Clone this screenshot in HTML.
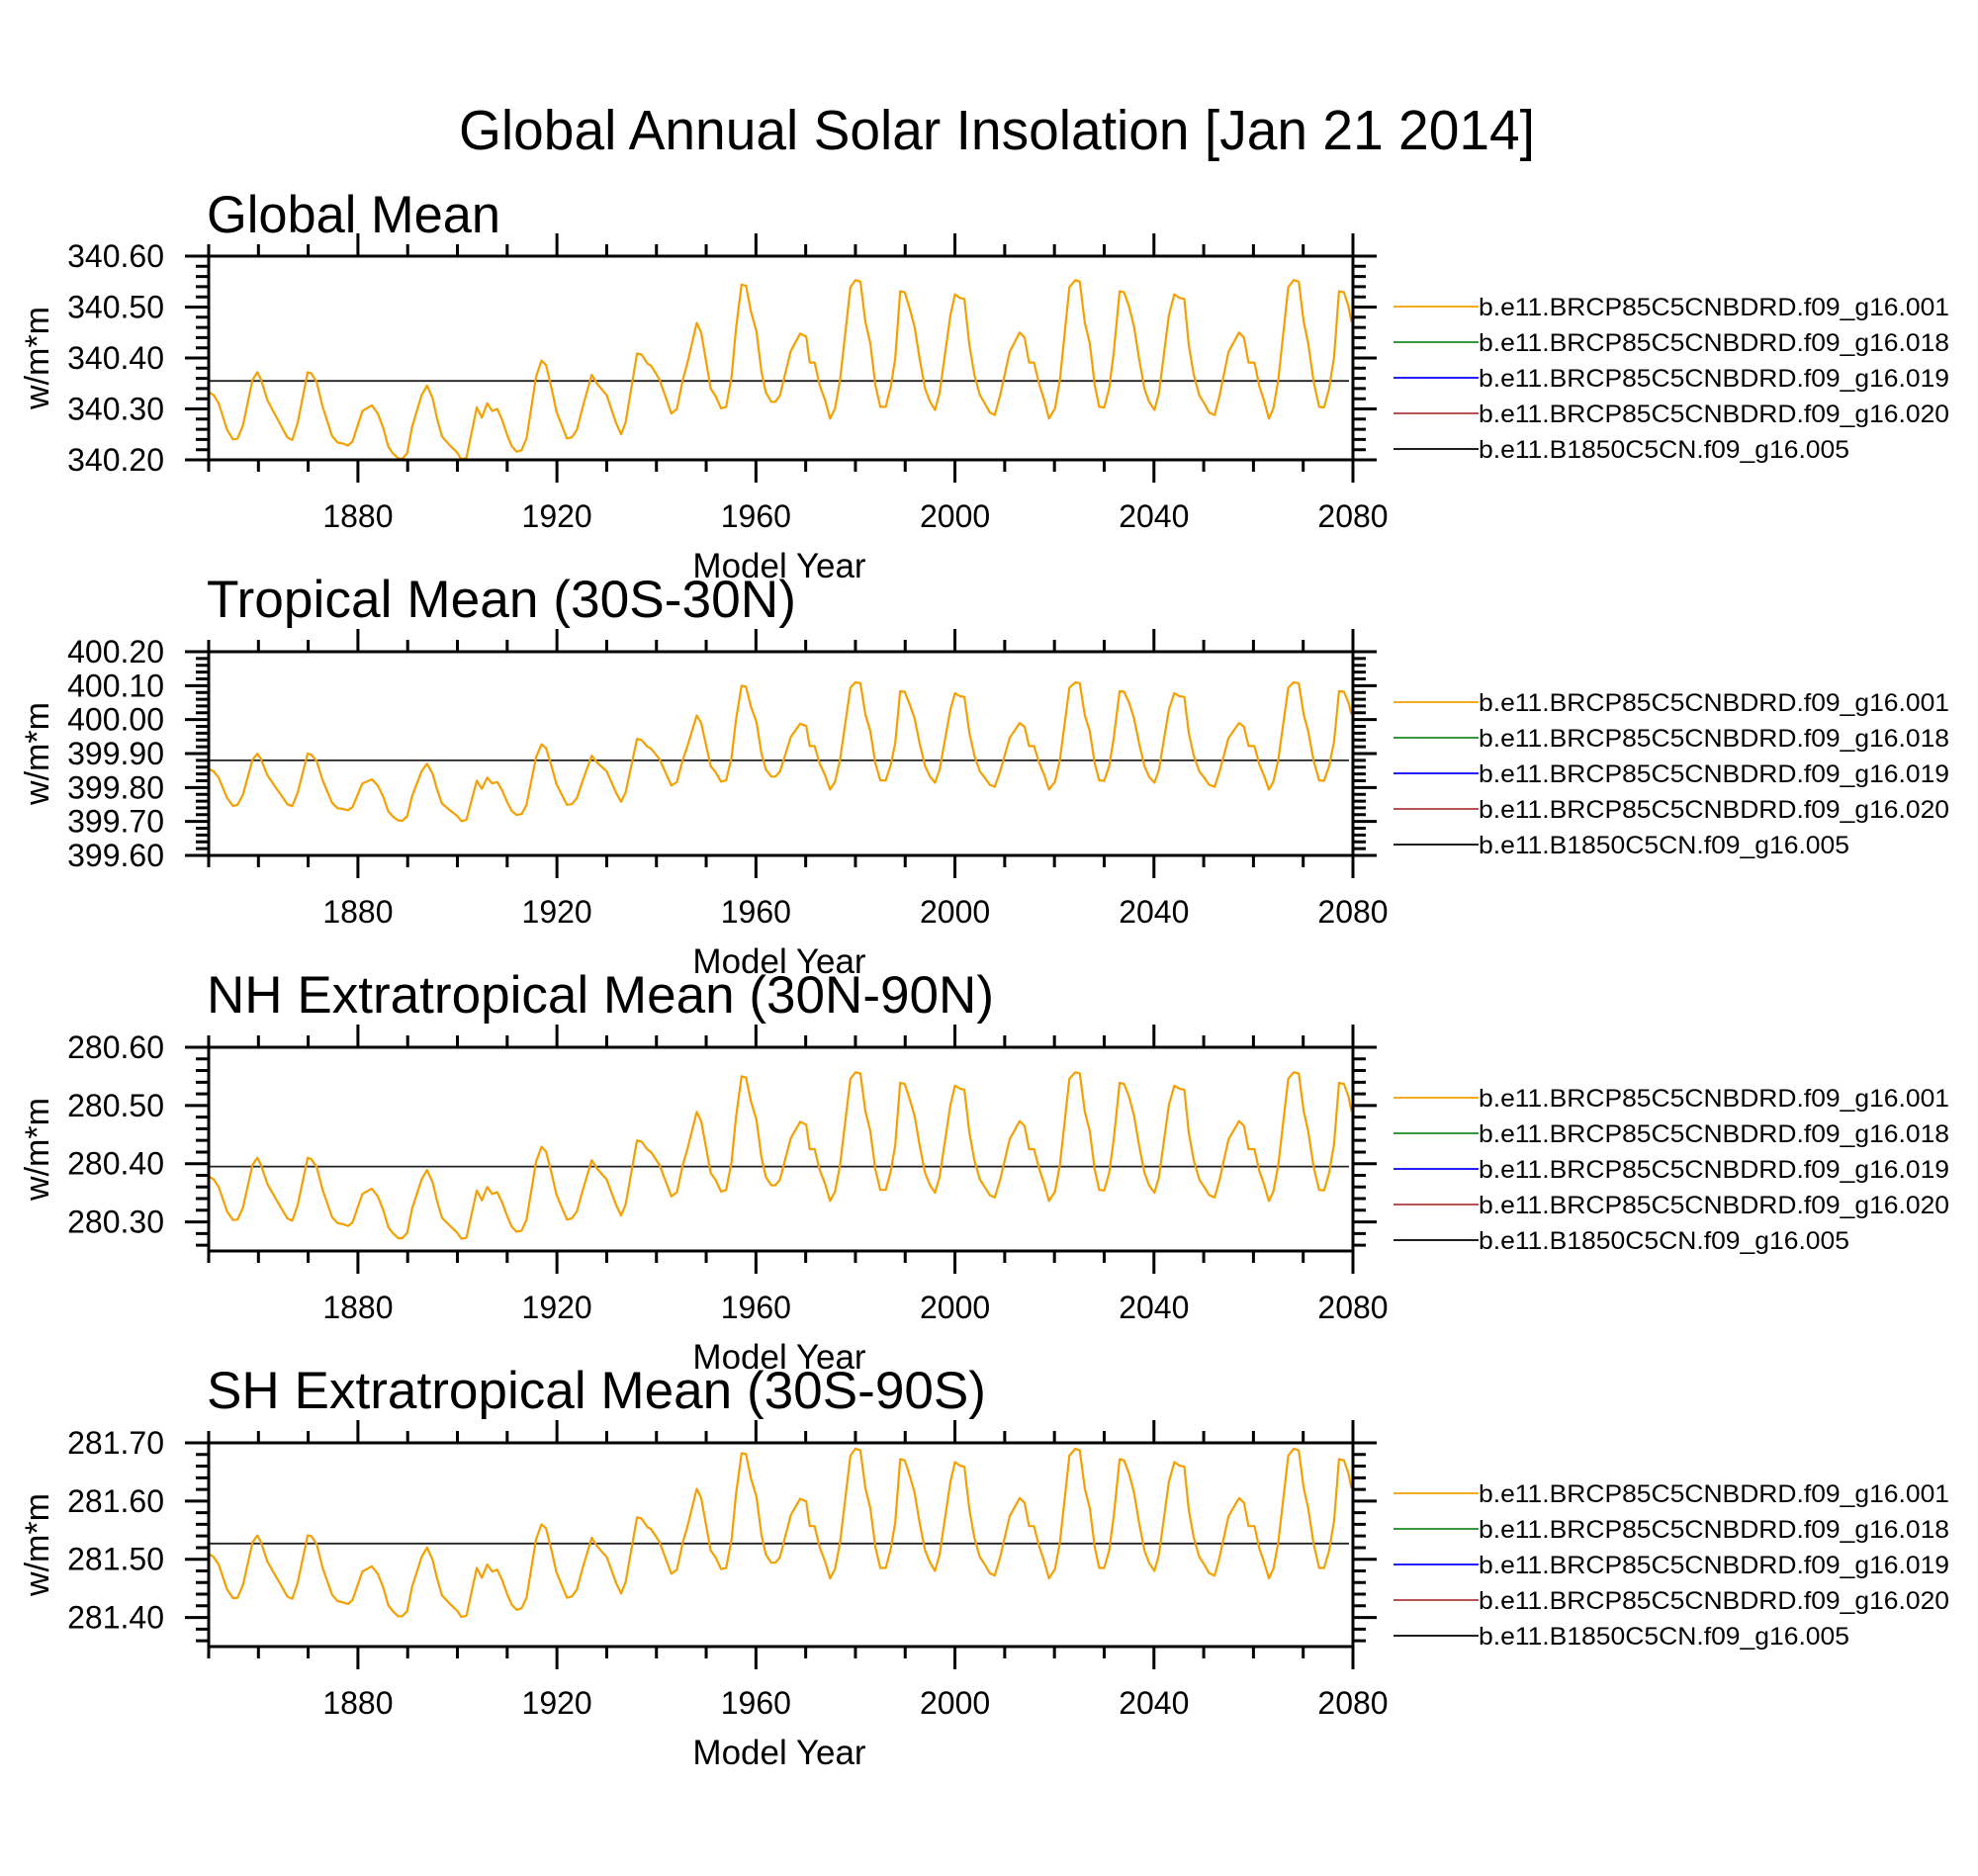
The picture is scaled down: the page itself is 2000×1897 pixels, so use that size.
<!DOCTYPE html>
<html><head><meta charset="utf-8"><style>
html,body{margin:0;padding:0;background:#fff;}
svg{display:block;font-family:"Liberation Sans",sans-serif;}
</style></head><body>
<svg id="chart" width="2000" height="1897" viewBox="0 0 2000 1897" xmlns="http://www.w3.org/2000/svg">
<rect width="2000" height="1897" fill="#fff"/>
<text x="1008" y="151" font-size="57" text-anchor="middle" textLength="1088" lengthAdjust="spacingAndGlyphs">Global Annual Solar Insolation [Jan 21 2014]</text>
</svg>
<script>
const years = [1850.1,1851,1852,1853.7,1854.9,1855.8,1856.9,1858.8,1859.8,1860.5,1861.8,1863,1864.5,1865.8,1866.8,1867.9,1869.9,1870.6,1871.7,1872.9,1874.8,1875.9,1877,1878,1878.9,1880.9,1882.8,1884,1885.1,1886.1,1887,1888.1,1888.9,1889.9,1890.9,1892.8,1893.9,1895,1895.9,1896.9,1898.4,1899.9,1900.8,1901.8,1903.9,1904.9,1906,1907,1908,1909,1910,1910.9,1911.9,1912.9,1913.9,1915.8,1916.9,1917.8,1919,1919.9,1922,1923,1924,1925.1,1927,1928.1,1930,1931.9,1932.9,1933.8,1936.1,1937,1938.2,1938.9,1940.6,1943,1944.1,1945.3,1946.2,1948.1,1949,1950.9,1951.9,1953,1954,1955.1,1956,1957.1,1958,1959,1960.1,1961.1,1962,1963.1,1963.9,1964.8,
1967,1968.9,1970.1,1970.8,1971.8,1972.8,1973.9,1974.9,1975.9,1976.9,1979,1980,1981,1982,1983,1984,1985,1986.1,1987.1,1988,1989,1989.9,1990.9,1991.9,1992.9,1994,1995,1996,1996.9,1999.1,2000,2001,2001.9,2002.9,2003.9,2005,2006,2007,2008,2009.1,2011,2013,2014,2014.9,2015.9,2016.9,2018,2018.9,2020.1,2021.1,2023,2024.2,2025.1,2026.1,2027.1,2028.1,2029,2030,2031,2031.9,2033.1,2034,2035,2036,2037,2038.1,2039,2040.1,2041,2043,2044.1,2045.1,2046.1,2047,2048,2049.1,2050.1,2051.1,2052.2,2053.2,2055,2057.1,2058.1,2059,2060.2,2061.2,2062.1,2063.1,2064,2065,2067,2068.1,2069.1,2070.1,2071,2072.1,2073.2,2074.2,2075.2,2076.2,2077.2,2078.2,2079.1,2079.7];

// values stored as mW/m^2 above each panel's base (w/m*m)
const globalBase = 340.20;
const globalAnom = [133,127,111,59,40,42,68,157,172,158,117,95,68,44,39,73,172,170,153,104,47,34,32,28,36,96,107,91,62,26,13,3,2,13,65,127,146,121,81,46,29,15,1,4,103,83,111,96,100,78,49,27,16,19,42,163,195,186,137,95,42,44,59,101,167,149,127,72,50,74,209,207,189,185,158,91,100,157,189,269,250,140,125,101,104,163,258,344,342,291,252,173,132,114,114,126,
214,248,242,191,191,147,117,81,101,157,339,353,350,271,229,147,104,104,144,199,331,329,297,261,199,140,114,98,131,284,325,318,316,225,167,127,111,93,88,127,212,250,240,191,191,150,116,81,101,157,339,353,350,269,229,147,104,103,140,209,331,329,301,261,199,140,114,98,131,284,325,318,316,225,167,127,111,93,88,127,212,250,240,191,191,144,117,81,101,157,339,353,350,271,229,153,104,103,140,202,331,329,301,271];

const tropicalBase = 399.70;
const tropicalAnom = [154,148,129,69,46,49,79,182,200,184,136,110,79,51,45,85,200,197,178,121,55,39,37,33,42,112,124,106,72,30,15,3,2,15,75,148,170,141,94,53,34,17,1,5,120,96,129,112,116,91,57,31,19,22,49,189,227,216,159,110,49,51,69,117,194,173,148,84,58,86,243,240,220,215,184,106,116,182,220,312,290,163,145,117,121,189,300,400,397,338,293,201,153,132,132,146,
249,288,281,222,222,171,136,94,117,182,394,410,407,315,266,171,121,121,167,231,384,382,345,303,231,163,132,114,152,330,378,369,367,261,194,148,129,108,102,148,246,290,279,222,222,174,135,94,117,182,394,410,407,312,266,171,121,120,163,243,384,382,350,303,231,163,132,114,152,330,378,369,367,261,194,148,129,108,102,148,246,290,279,222,222,167,136,94,117,182,394,410,407,315,266,178,121,120,163,235,384,382,350,315];

const nhBase = 280.27;
const nhAnom = [108,103,90,48,33,34,55,128,140,128,95,77,55,36,32,59,140,138,124,85,38,28,26,23,29,78,87,74,50,21,11,2,2,11,53,103,119,98,66,37,24,12,1,3,84,67,90,78,81,63,40,22,13,15,34,133,159,151,111,77,34,36,48,82,136,121,103,59,41,60,170,168,154,150,128,74,81,128,154,219,203,114,102,82,85,133,210,280,278,237,205,141,107,93,93,102,
174,202,197,155,155,120,95,66,82,128,276,287,285,220,186,120,85,85,117,162,269,267,241,212,162,114,93,80,107,231,264,259,257,183,136,103,90,76,72,103,172,203,195,155,155,122,94,66,82,128,276,287,285,219,186,120,85,84,114,170,269,267,245,212,162,114,93,80,107,231,264,259,257,183,136,103,90,76,72,103,172,203,195,155,155,117,95,66,82,128,276,287,285,220,186,124,85,84,114,164,269,267,245,220];

const shBase = 281.40;
const shAnom = [109,104,91,48,33,34,56,129,141,130,96,78,56,36,32,60,141,140,126,85,39,28,26,23,30,79,88,75,51,21,11,2,2,11,53,104,120,99,67,38,24,12,1,3,85,68,91,79,82,64,40,22,13,16,34,134,160,153,112,78,34,36,48,83,137,122,104,59,41,61,172,170,155,152,130,75,82,129,155,221,205,115,103,83,85,134,212,282,281,239,207,142,108,94,94,103,
176,204,199,157,157,121,96,67,83,129,278,290,287,222,188,121,85,85,118,163,272,270,244,214,163,115,94,80,108,233,267,261,259,185,137,104,91,76,72,104,174,205,197,157,157,123,95,67,83,129,278,290,287,221,188,121,85,85,115,172,272,270,247,214,163,115,94,80,108,233,267,261,259,185,137,104,91,76,72,104,174,205,197,157,157,118,96,67,83,129,278,290,287,222,188,126,85,85,115,166,272,270,247,222];

const controlValues = [340.355, 399.88, 280.395, 281.527];
const panelTitles = ["Global Mean","Tropical Mean (30S-30N)","NH Extratropical Mean (30N-90N)","SH Extratropical Mean (30S-90S)"];
const yMins = [340.20, 399.60, 280.25, 281.35];
const yMaxs = [340.60, 400.20, 280.60, 281.70];
const yTickLabels = [
  ["340.20","340.30","340.40","340.50","340.60"],
  ["399.60","399.70","399.80","399.90","400.00","400.10","400.20"],
  ["280.30","280.40","280.50","280.60"],
  ["281.40","281.50","281.60","281.70"]];
const xTickLabels = ["1880","1920","1960","2000","2040","2080"];
const legendLabels = ["b.e11.BRCP85C5CNBDRD.f09_g16.001","b.e11.BRCP85C5CNBDRD.f09_g16.018","b.e11.BRCP85C5CNBDRD.f09_g16.019","b.e11.BRCP85C5CNBDRD.f09_g16.020","b.e11.B1850C5CN.f09_g16.005"];

const seriesAnoms = [globalAnom, tropicalAnom, nhAnom, shAnom];
const seriesBases = [globalBase, tropicalBase, nhBase, shBase];
const legendColors = ["#f5a000","#1e8a1e","#0000ff","#b03a3a","#000000"];

const NS = "http://www.w3.org/2000/svg";
const svg = document.getElementById('chart');
function mk(tag, attrs, parent){const e=document.createElementNS(NS,tag);for(const k in attrs)e.setAttribute(k,attrs[k]);(parent||svg).appendChild(e);return e;}

const L=211, R=1368, H=206, X0=1850, X1=2080;
const xs = yr => L + (yr-X0)/(X1-X0)*(R-L);

for(let p=0;p<4;p++){
  const T = 259 + p*400, B = T+H;
  const ys = v => B - (v-yMins[p])/(yMaxs[p]-yMins[p])*H;
  const g = mk('g',{});
  
  

  const t = mk('text',{x:L-2,y:T-(p===0?24:35),'font-size':53,textLength:[297,596,796,788][p],lengthAdjust:'spacingAndGlyphs'},g);
  t.textContent = panelTitles[p];
  
  

  for(let yr=1850; yr<=2080; yr+=10){
    const x = xs(yr), major = (yr-1880)%40===0, len = major?23:12;
    const tk = mk('path',{d:`M${x},${T}V${T-len}M${x},${B}V${B+len}`,stroke:'#000','stroke-width':3},g);
    
    
  }
  xTickLabels.forEach(s=>{
    const lb = mk('text',{x:xs(+s),y:B+68,'font-size':32,'text-anchor':'middle'},g);
    lb.textContent = s;
    
    
  });
  const step=0.02;
  for(let v=Math.ceil(yMins[p]/step-1e-6)*step; v<=yMaxs[p]+1e-6; v+=step){
    const y = ys(v), major = Math.abs(v*10-Math.round(v*10))<1e-4, len = major?24:13;
    const tk = mk('path',{d:`M${L},${y}H${L-len}M${R},${y}H${R+len}`,stroke:'#000','stroke-width':3},g);
    
    
  }
  yTickLabels[p].forEach(s=>{
    const lb = mk('text',{x:166,y:ys(+s)+11,'font-size':32,'text-anchor':'end'},g);
    lb.textContent = s;
    
    
  });
  const yt = mk('text',{x:0,y:0,'font-size':34,'text-anchor':'middle',transform:`translate(49,${(T+B)/2}) rotate(-90)`},g);
  yt.textContent = 'w/m*m';
  
  
  const xt = mk('text',{x:788,y:B+119,'font-size':35,'text-anchor':'middle'},g);
  xt.textContent = 'Model Year';
  
  

  const cl = mk('line',{x1:L,x2:1364,y1:ys(controlValues[p]),y2:ys(controlValues[p]),stroke:'#222','stroke-width':1.8},g);
  
  
  const an = seriesAnoms[p], base = seriesBases[p];
  const d = years.map((yr,i)=>(i?'L':'M')+xs(yr).toFixed(1)+','+ys(base+an[i]/1000).toFixed(1)).join('');
  const sl = mk('path',{d,fill:'none',stroke:'#f5a000','stroke-width':2.2,'stroke-linejoin':'round'},g);
  
  

  const fr = mk('rect',{x:L,y:T,width:R-L,height:H,fill:'none',stroke:'#000','stroke-width':3},g);
  
  

  legendLabels.forEach((s,i)=>{
    const ly = T + 51 + i*36;
    const ln = mk('line',{x1:1409,x2:1495,y1:ly,y2:ly,stroke:legendColors[i],'stroke-width':1.8},g);
    
    
    const lt = mk('text',{x:1495,y:ly+9,'font-size':25,textLength:i<4?476:375,lengthAdjust:'spacingAndGlyphs'},g);
    lt.textContent = s;
    
    
  });
}
</script>
</body></html>
